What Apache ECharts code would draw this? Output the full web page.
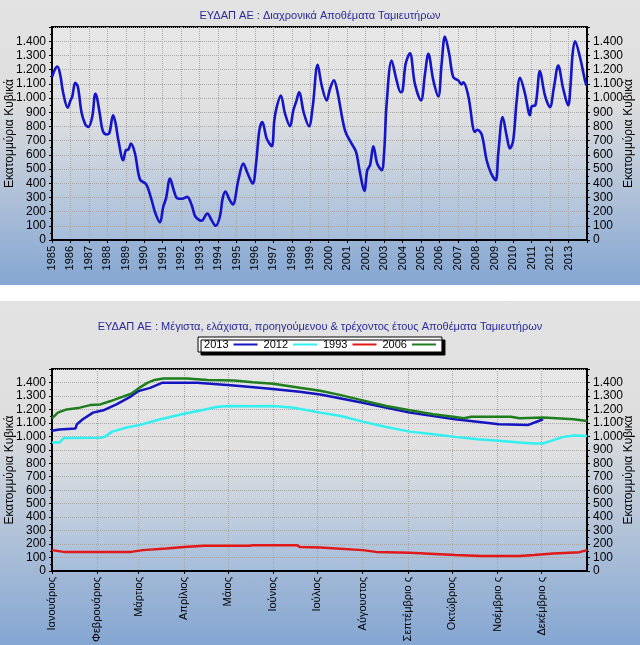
<!DOCTYPE html>
<html>
<head>
<meta charset="utf-8">
<script src="https://cdn.jsdelivr.net/npm/echarts@6/dist/echarts.min.js"></script>
<style>
  body { margin: 0; background: #fff; }
  .panel { position: absolute; left: 0; width: 640px;
    background: linear-gradient(to bottom, #e3e3e3 0%, #dedede 35%, #84a6d2 100%); }
</style>
</head>
<body>
<div id="top" class="panel" style="top:0;height:285px;"></div>
<div id="bottom" class="panel" style="top:301px;height:344px;"></div>
<script>
// ιστορικά αποθέματα (έτος, εκατ. m3)
var topYears = [1985.0,1985.15,1985.29,1985.45,1985.6,1985.85,1986.0,1986.1,1986.26,1986.4,1986.6,1986.8,1986.97,
  1987.18,1987.35,1987.45,1987.6,1987.75,1987.93,1988.1,1988.31,1988.45,1988.6,1988.86,1989.0,1989.14,1989.28,1989.5,
  1989.77,1990.1,1990.4,1990.6,1990.85,1991.03,1991.18,1991.4,1991.6,1991.8,1992.05,1992.33,1992.57,1992.75,1992.93,
  1993.1,1993.42,1993.65,1993.87,1994.1,1994.25,1994.4,1994.6,1994.8,1995.1,1995.37,1995.6,1995.88,1996.06,1996.24,
  1996.4,1996.64,1996.91,1997.05,1997.18,1997.4,1997.63,1997.9,1998.08,1998.25,1998.39,1998.66,1998.93,1999.13,1999.4,
  1999.62,1999.89,2000.07,2000.28,2000.46,2000.88,2001.24,2001.48,2001.7,2001.93,2002.09,2002.24,2002.42,2002.63,
  2002.87,2003.0,2003.14,2003.41,2003.68,2003.9,2004.0,2004.17,2004.4,2004.67,2005.0,2005.22,2005.4,2005.67,2005.94,
  2006.12,2006.3,2006.53,2006.75,2007.02,2007.2,2007.3,2007.56,2007.93,2008.05,2008.29,2008.56,2008.8,2009.05,2009.19,
  2009.43,2009.64,2009.82,2010.0,2010.19,2010.37,2010.64,2010.91,2011.0,2011.2,2011.45,2011.72,2011.99,2012.21,
  2012.44,2012.71,2012.98,2013.1,2013.22,2013.35,2013.62,2013.89,2013.98];
var topValues = [1147,1200,1222,1160,1040,932,983,1010,1107,1080,900,815,796,
  866,1030,995,880,770,744,750,878,820,700,562,632,637,679,609,
  426,393,281,190,124,234,293,433,350,293,290,304,246,170,145,
  136,187,140,100,164,293,342,290,250,421,538,470,398,538,772,
  831,714,660,843,936,1018,890,801,913,980,1041,890,801,936,1234,
  1088,983,1065,1124,1053,772,679,620,470,346,492,527,660,538,
  492,609,960,1264,1124,1041,1050,1241,1314,1100,983,1171,1311,1124,1011,
  1241,1433,1311,1147,1124,1096,1110,1018,761,776,744,562,470,421,609,
  866,737,644,702,983,1143,1030,878,941,948,1189,1018,936,1077,
  1229,1065,948,1077,1311,1400,1287,1124,1088];

// ημερήσια πορεία ανά έτος (ημέρα του έτους, εκατ. m3)
var months = ['Ιανουάριος','Φεβρουάριος','Μάρτιος','Απρίλιος','Μάιος','Ιούνιος','Ιούλιος',
  'Αύγουστος','Σεπτέμβριο ς','Οκτώβριος','Νοέμβριο ς','Δεκέμβριο ς'];
var monthStart = [0,31,59,90,120,151,181,212,243,273,304,334];

var days2013 = [0,5,16,17,21,28,35,44,53,59,67,75,99,124,147,169,183,212,244,275,305,325,332,335];
var vals2013 = [1041,1050,1058,1090,1127,1176,1193,1237,1291,1336,1360,1397,1397,1378,1356,1331,1311,1249,1176,1127,1090,1085,1114,1127];

var days2012 = [0,5,8,33,36,41,51,60,74,90,103,112,120,137,151,165,183,197,212,228,244,260,275,290,305,319,329,335,342,349,356,365];
var vals2012 = [954,954,987,990,996,1035,1065,1085,1127,1168,1196,1218,1225,1223,1225,1213,1176,1151,1109,1070,1035,1016,996,979,967,954,947,947,972,996,1006,1003];

var days1993 = [0,8,54,62,78,90,104,135,137,167,169,183,212,221,244,275,293,319,329,342,360,365];
var vals1993 = [155,142,142,155,167,179,187,187,192,192,179,175,155,142,135,118,111,111,118,130,140,155];

var days2006 = [0,4,10,19,26,33,40,46,54,59,65,70,76,92,106,124,137,151,169,183,197,212,228,244,260,275,281,286,313,319,335,356,365];
var vals2006 = [1134,1176,1200,1213,1232,1237,1262,1286,1316,1356,1397,1419,1429,1429,1419,1415,1402,1390,1360,1338,1306,1267,1225,1193,1164,1144,1134,1146,1146,1134,1139,1127,1114];

var FONT = 'Liberation Sans';
var AXNAME = 'Εκατομμύρια Κυβικά';

function pairs(xs, ys) { return xs.map(function (x, i) { return [x, ys[i]]; }); }
function fmt(v) {
  if (v >= 1500) return '';
  return v >= 1000 ? Math.floor(v / 1000) + '.' + String(v % 1000).padStart(3, '0') : String(v);
}
function plotBg() {
  return new echarts.graphic.LinearGradient(0, 0, 0, 1, [
    {offset: 0, color: '#e7e7e7'}, {offset: 0.4, color: '#e0e0e0'}, {offset: 1, color: '#a5bddb'}]);
}
function yAxis(pos) {
  return {
    type: 'value', position: pos, min: 0, max: 1500, interval: 100,
    name: AXNAME, nameLocation: 'middle', nameRotate: 90, nameGap: 36, nameMoveOverlap: false,
    nameTextStyle: {fontFamily: FONT, fontSize: 12, color: '#000'},
    axisLine: {show: true, lineStyle: {color: '#000', width: 2}},
    axisTick: {show: true, length: 3, lineStyle: {color: '#000'}},
    minorTick: {show: true, splitNumber: 2, length: 2, lineStyle: {color: '#000'}},
    axisLabel: {formatter: fmt, fontFamily: FONT, fontSize: 12, color: '#000', margin: 6},
    splitLine: {show: pos === 'left', lineStyle: {color: '#a8a8a8', type: [1, 1]}}
  };
}

var topChart = echarts.init(document.getElementById('top'));
topChart.setOption({
  backgroundColor: 'transparent',
  title: {text: 'ΕΥΔΑΠ ΑΕ : Διαχρονικά Αποθέματα Ταμιευτήρων', left: 'center', top: 5,
    textStyle: {fontFamily: FONT, fontSize: 11, fontWeight: 'normal', color: '#2a2a9c'}},
  grid: {left: 52, right: 53, top: 27, height: 213, show: true, backgroundColor: plotBg(),
    borderColor: '#000', borderWidth: 2, outerBoundsMode: 'none', containLabel: false},
  xAxis: {
    type: 'value', min: 1985, max: 2014, interval: 1,
    axisLine: {lineStyle: {color: '#000', width: 2}},
    axisTick: {length: 3, lineStyle: {color: '#000'}},
    axisLabel: {rotate: 90, fontFamily: FONT, fontSize: 11, color: '#000', margin: 6,
      formatter: function (v) { return v < 2014 ? String(v) : ''; }},
    splitLine: {show: true, lineStyle: {color: '#a8a8a8', type: [1, 1]}}
  },
  yAxis: [yAxis('left'), yAxis('right')],
  series: [{
    type: 'line', data: pairs(topYears, topValues), smooth: 0.35, symbol: 'none',
    lineStyle: {color: '#1414c8', width: 2.6}
  }]
});

var dayCats = [];
for (var d = 0; d <= 365; d++) dayCats.push(d);
var isMonth = function (i) { return monthStart.indexOf(i) >= 0; };

var bottomChart = echarts.init(document.getElementById('bottom'));
bottomChart.setOption({
  backgroundColor: 'transparent',
  title: {text: 'ΕΥΔΑΠ ΑΕ : Μέγιστα, ελάχιστα, προηγούμενου & τρέχοντος έτους Αποθέματα Ταμιευτήρων',
    left: 'center', top: 15,
    textStyle: {fontFamily: FONT, fontSize: 11, fontWeight: 'normal', color: '#2a2a9c'}},
  legend: {
    top: 36, left: 'center', align: 'right', icon: 'rect', itemWidth: 24, itemHeight: 2, itemGap: 6,
    backgroundColor: '#fff', borderColor: '#000', borderWidth: 1, padding: [2, 6],
    shadowColor: '#000', shadowOffsetX: 3, shadowOffsetY: 3, shadowBlur: 0.01,
    textStyle: {fontFamily: FONT, fontSize: 11, color: '#000'},
    data: ['2013', '2012', '1993', '2006']
  },
  grid: {left: 52, right: 53, top: 68, height: 202, show: true, backgroundColor: plotBg(),
    borderColor: '#000', borderWidth: 2, outerBoundsMode: 'none', containLabel: false},
  xAxis: {
    type: 'category', data: dayCats, boundaryGap: false,
    axisLine: {lineStyle: {color: '#000', width: 2}},
    axisTick: {interval: function (i) { return isMonth(i); }, length: 3, lineStyle: {color: '#000'}},
    axisLabel: {interval: function (i) { return isMonth(i); }, rotate: 90, fontFamily: FONT, fontSize: 11,
      color: '#000', margin: 6,
      formatter: function (v) { var k = monthStart.indexOf(Number(v)); return k >= 0 ? months[k] : ''; }},
    splitLine: {show: true, interval: function (i) { return isMonth(i); },
      lineStyle: {color: '#a8a8a8', type: [1, 1]}}
  },
  yAxis: [yAxis('left'), yAxis('right')],
  series: [
    {name: '2013', type: 'line', data: pairs(days2013, vals2013), symbol: 'none', lineStyle: {color: '#1414c0', width: 2.5}, itemStyle: {color: '#1414c0'}},
    {name: '2012', type: 'line', data: pairs(days2012, vals2012), symbol: 'none', lineStyle: {color: '#30f0f0', width: 2.5}, itemStyle: {color: '#30f0f0'}},
    {name: '1993', type: 'line', data: pairs(days1993, vals1993), symbol: 'none', lineStyle: {color: '#e01818', width: 2.5}, itemStyle: {color: '#e01818'}},
    {name: '2006', type: 'line', data: pairs(days2006, vals2006), symbol: 'none', lineStyle: {color: '#1e7e1e', width: 2.5}, itemStyle: {color: '#1e7e1e'}}
  ]
});
</script>
</body>
</html>
